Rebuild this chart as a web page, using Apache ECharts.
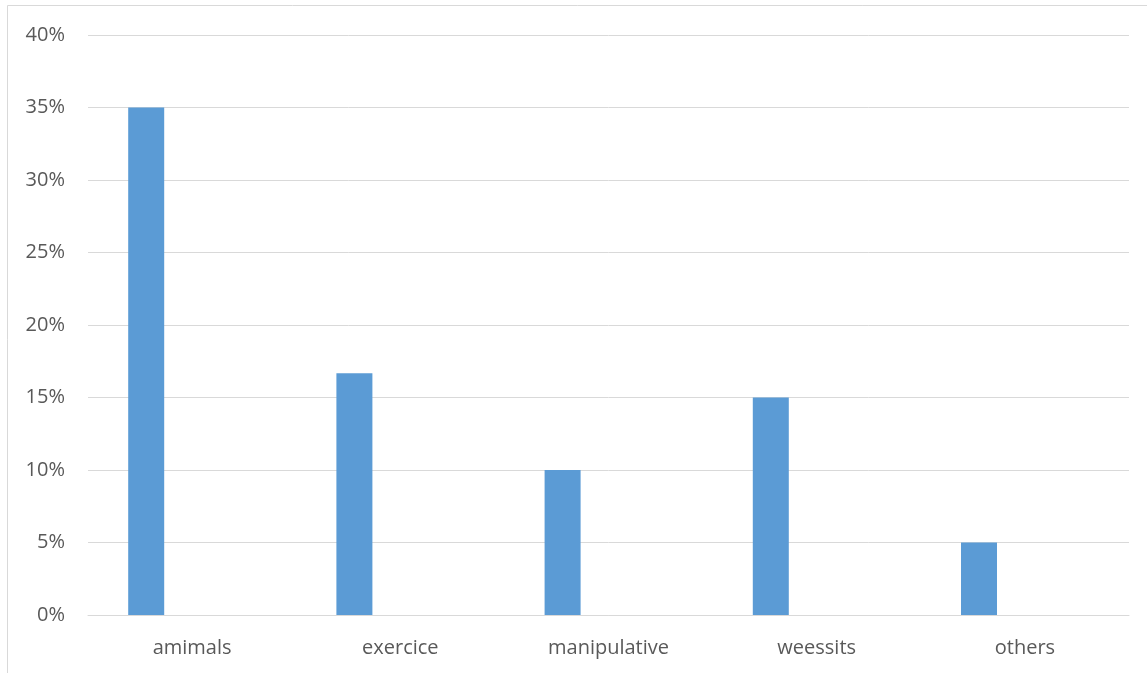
<!DOCTYPE html>
<html>
<head>
<meta charset="utf-8">
<script src="https://cdn.jsdelivr.net/npm/echarts@6/dist/echarts.min.js"></script>
<style>
  html, body { margin: 0; padding: 0; background: #fff; }
  #chart { width: 1147px; height: 673px; }
</style>
</head>
<body>
<div id="chart"></div>
<script>
// Categories and shares (percent)
const categories = ['amimals', 'exercice', 'manipulative', 'weessits', 'others'];
const shareValues = [35, 16.67, 10, 15, 5];
// Second series slot is present but empty in every category
const emptyValues = [null, null, null, null, null];
const yTicks = { min: 0, max: 40, interval: 5 };

const chart = echarts.init(document.getElementById('chart'));
const textColor = '#595959';
const fontFamily = "'Open Sans', 'Noto Sans', sans-serif";

chart.setOption({
  animation: false,
  backgroundColor: '#fff',
  graphic: [{
    type: 'rect',
    shape: { x: 7.5, y: 5.5, width: 1200, height: 700 },
    style: { fill: 'none', stroke: '#d9d9d9', lineWidth: 1 },
    silent: true
  }],
  grid: { left: 88, right: 18, top: 35, bottom: 58 },
  xAxis: {
    type: 'category',
    data: categories,
    axisLine: { lineStyle: { color: '#d9d9d9', width: 1 } },
    axisTick: { show: false },
    axisLabel: { color: textColor, fontSize: 20, fontFamily: fontFamily, margin: 23 }
  },
  yAxis: {
    type: 'value',
    min: yTicks.min,
    max: yTicks.max,
    interval: yTicks.interval,
    axisLine: { show: false },
    axisTick: { show: false },
    splitLine: { lineStyle: { color: '#d9d9d9', width: 1 } },
    axisLabel: { color: textColor, fontSize: 20, fontFamily: fontFamily, margin: 23, formatter: '{value}%' }
  },
  series: [
    {
      type: 'bar',
      data: shareValues,
      barWidth: 36,
      barGap: '155%',
      itemStyle: { color: '#5b9bd5' }
    },
    {
      type: 'bar',
      data: emptyValues,
      barWidth: 36,
      itemStyle: { color: '#ed7d31' }
    }
  ]
});
</script>
</body>
</html>
